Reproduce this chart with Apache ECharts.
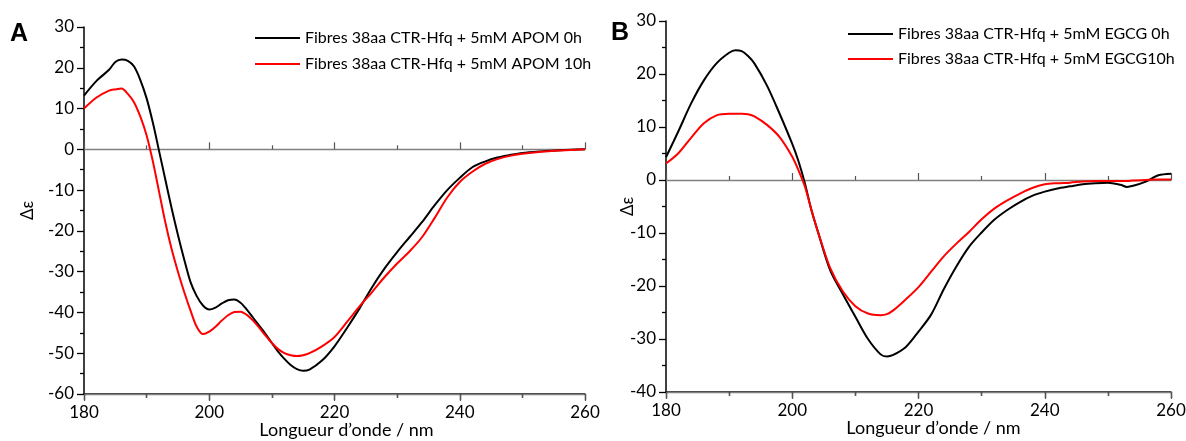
<!DOCTYPE html>
<html>
<head>
<meta charset="utf-8">
<script src="https://cdn.jsdelivr.net/npm/echarts@6/dist/echarts.min.js"></script>
<style>
html,body{margin:0;padding:0;background:#fff;}
#c{width:1186px;height:441px;}
</style>
</head>
<body>
<div id="c"></div>
<script>
// ---- Panel A data ----
const nmA = [180,182,184,185,186,187,188,189,190,191,192,193,194,195,196,197,198,199,200,201,202,203,204,205,206,207,208,209,210,211,212,213,214,215,216,218,220,222,224,226,228,230,232,234,236,238,240,242,244,246,248,250,253,256,260];
const apom0h = [13.2,16.8,19.5,21.4,22.0,21.7,20.3,17,12.5,6.5,-0.5,-7.5,-14.5,-21,-27,-32.5,-36,-38.3,-39.3,-38.8,-37.8,-37,-36.8,-37.6,-39.3,-41.3,-43.3,-45.3,-47.5,-49.6,-51.4,-52.9,-53.9,-54.3,-54,-51.8,-48.3,-43.8,-39,-33.8,-29.2,-25.2,-21.5,-17.8,-13.7,-10,-7,-4.4,-3,-2,-1.4,-0.9,-0.5,-0.2,0];
const apom10h = [10,12.7,14.4,14.7,14.9,13.6,11.5,8,3.4,-3,-10.5,-18,-24.5,-30,-35,-39.5,-43.5,-45.3,-44.7,-43.5,-42,-40.7,-39.9,-39.8,-40.6,-42,-43.8,-45.7,-47.5,-49,-50,-50.5,-50.7,-50.5,-50,-48.3,-46,-42.3,-38.5,-35,-31.3,-28,-25,-21.5,-16.8,-11.8,-8,-5.5,-3.6,-2.4,-1.6,-1.1,-0.6,-0.3,0];

// ---- Panel B data ----
const nmB = [180,182,184,186,188,190,191,192,193,194,196,198,200,201,202,203,204,206,208,210,212,214,215,216,218,220,222,224,226,228,230,232,234,236,238,240,242,244,246,248,250,252,253,254,256,258,260];
const egcg0h = [4.3,9.3,14.5,18.8,22.0,24,24.5,24.3,23.4,22.0,17.8,12.5,6.8,3.5,-0.6,-5.5,-9.5,-17,-21.5,-25.8,-30,-32.9,-33.3,-33,-31.5,-28.6,-25.4,-20.6,-16.3,-12.6,-9.9,-7.5,-5.7,-4.2,-3.0,-2.2,-1.6,-1.2,-0.8,-0.6,-0.5,-0.9,-1.3,-1.1,-0.3,0.9,1.2];
const egcg10h = [3.1,5.1,8,10.7,12.2,12.5,12.5,12.5,12.4,12,10.4,8.1,4.4,1.8,-1.2,-5.5,-9.5,-16.6,-21,-23.8,-25.2,-25.5,-25.3,-24.6,-22.5,-20.2,-17.3,-14.4,-12,-9.8,-7.4,-5.4,-3.9,-2.6,-1.5,-0.8,-0.6,-0.5,-0.3,-0.2,-0.2,-0.2,-0.2,-0.1,0,0.1,0.1];

const namesA = ['Fibres 38aa CTR-Hfq + 5mM APOM 0h','Fibres 38aa CTR-Hfq + 5mM APOM 10h'];
const namesB = ['Fibres 38aa CTR-Hfq + 5mM EGCG 0h','Fibres 38aa CTR-Hfq + 5mM EGCG10h'];
const xName = 'Longueur d\u2019onde / nm';
const yName = '\u0394\u03b5';

const FONT = 'Lato';
const pairs = (xs, ys) => xs.map((x, i) => [x, ys[i]]);

function bottomAxis(grid, shift) {
  return {
    type: 'value', gridIndex: grid, min: 180, max: 260, interval: 20, position: 'bottom',
    axisLine: {onZero: false, lineStyle: {color: '#000', width: 1.5}},
    axisTick: {show: true, length: 6, lineStyle: {color: '#000', width: 1.3}},
    minorTick: {show: true, splitNumber: 2, length: 4, lineStyle: {color: '#000', width: 1.3}},
    axisLabel: {color: '#000', fontFamily: FONT, fontSize: 17, margin: 10},
    splitLine: {show: false},
    name: xName, nameLocation: 'middle', nameGap: 27, nameMoveOverlap: false,
    nameTextStyle: {color: '#000', fontFamily: FONT, fontSize: 18, padding: [0, 0, 0, shift]}
  };
}
function zeroAxis(grid, inside) {
  return {
    type: 'value', gridIndex: grid, min: 180, max: 260, interval: 20, position: 'bottom',
    axisLine: {onZero: true, lineStyle: {color: '#808080', width: 1.3}},
    axisTick: {show: true, inside: inside, length: 7, lineStyle: {color: '#555', width: 1.2}},
    minorTick: {show: true, splitNumber: 2, length: 4, lineStyle: {color: '#555', width: 1.2}},
    axisLabel: {show: false},
    splitLine: {show: false}
  };
}
function yAxis(grid, min, max, gap) {
  return {
    type: 'value', gridIndex: grid, min: min, max: max, interval: 10,
    axisLine: {show: true, onZero: false, lineStyle: {color: '#000', width: 1.5}},
    axisTick: {show: true, length: 7, lineStyle: {color: '#000', width: 1.3}},
    minorTick: {show: true, splitNumber: 2, length: 4, lineStyle: {color: '#000', width: 1.3}},
    axisLabel: {color: '#000', fontFamily: FONT, fontSize: 17, margin: 10},
    splitLine: {show: false},
    name: yName, nameLocation: 'middle', nameGap: gap, nameRotate: 90, nameMoveOverlap: false,
    nameTextStyle: {color: '#000', fontFamily: FONT, fontSize: 17}
  };
}
function line(name, xi, yi, xs, ys, color) {
  return {
    name: name, type: 'line', xAxisIndex: xi, yAxisIndex: yi, data: pairs(xs, ys),
    symbol: 'none', smooth: 0.3, lineStyle: {color: color, width: 2}, itemStyle: {color: color},
    silent: true, animation: false
  };
}
function legend(names, left, top, gap) {
  return {
    data: names, orient: 'vertical', left: left, top: top, icon: 'rect',
    itemWidth: 45, itemHeight: 2, itemGap: gap, selectedMode: false,
    textStyle: {color: '#000', fontFamily: FONT, fontSize: 16, lineHeight: 20}
  };
}

const chart = echarts.init(document.getElementById('c'), null, {renderer: 'canvas'});
chart.setOption({
  animation: false,
  backgroundColor: '#fff',
  grid: [
    {left: 84, top: 27, width: 501, height: 367, containLabel: false, outerBoundsMode: 'none'},
    {left: 666, top: 21, width: 505, height: 371, containLabel: false, outerBoundsMode: 'none'}
  ],
  xAxis: [bottomAxis(0, 24), zeroAxis(0, true), zeroAxis(0, false),
          bottomAxis(1, 30), zeroAxis(1, true), zeroAxis(1, false)],
  yAxis: [yAxis(0, -60, 30, 48), yAxis(1, -40, 30, 30)],
  legend: [legend(namesA, 250, 23, 6), legend(namesB, 843, 19, 5)],
  series: [
    line(namesA[0], 0, 0, nmA, apom0h, '#000'),
    line(namesA[1], 0, 0, nmA, apom10h, '#ff0000'),
    line(namesB[0], 3, 1, nmB, egcg0h, '#000'),
    line(namesB[1], 3, 1, nmB, egcg10h, '#ff0000')
  ],
  graphic: [
    {type: 'text', left: 10, top: 22, style: {text: 'A', font: 'bold 25px "Liberation Sans"', fill: '#000'}},
    {type: 'text', left: 611, top: 21, style: {text: 'B', font: 'bold 25px "Liberation Sans"', fill: '#000'}}
  ]
});
</script>
</body>
</html>
